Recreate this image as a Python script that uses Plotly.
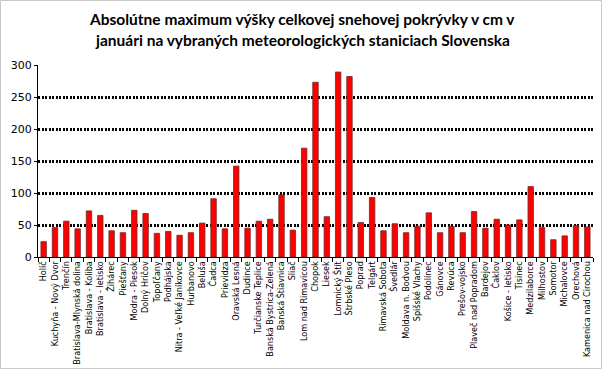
import plotly.graph_objects as go

stations = ["Holíč", "Kuchyňa - Nový Dvor", "Trenčín", "Bratislava-Mlynská dolina",
            "Bratislava - Koliba", "Bratislava - letisko", "Žihárec", "Piešťany",
            "Modra - Piesok", "Dolný Hričov", "Topoľčany", "Podhájska",
            "Nitra - Veľké Janíkovce", "Hurbanovo", "Beluša", "Čadca", "Prievidza",
            "Oravská Lesná", "Dudince", "Turčianske Teplice", "Banská Bystrica-Zelená",
            "Banská Štiavnica", "Sliač", "Lom nad Rimavicou", "Chopok", "Liesek",
            "Lomnický Štít", "Štrbské Pleso", "Poprad", "Telgárt", "Rimavská Sobota",
            "Švedlár", "Moldava n. Bodvou", "Spišské Vlachy", "Podolínec", "Gánovce",
            "Revúca", "Prešov-vojsko", "Plaveč nad Popradom", "Bardejov", "Čaklov",
            "Košice - letisko", "Tisinec", "Medzilaborce", "Milhostov", "Somotor",
            "Michalovce", "Orechová", "Kamenica nad Cirochou"]

snow_cm = [24, 46, 56, 44, 72, 65, 41, 38, 73, 68, 37, 40, 34, 38, 53, 91, 44,
           142, 45, 56, 59, 97, 42, 170, 273, 63, 289, 282, 54, 93, 41, 52, 38,
           48, 69, 38, 48, 38, 71, 45, 59, 50, 58, 110, 46, 27, 33, 49, 47]

y_ticks = [0, 50, 100, 150, 200, 250, 300]

title_lines = ["Absolútne maximum výšky celkovej snehovej pokrývky v cm v",
               "januári na vybraných meteorologických staniciach Slovenska"]

# plot area in pixels: x 38..593, y 65..257
PH = 192.0
PW = 555.0

fig = go.Figure()
fig.add_trace(go.Bar(
    x=stations, y=snow_cm,
    marker=dict(color="#ff0000", line=dict(color="#6e2a2a", width=0.8)),
))

annotations = []
for line, ypix in zip(title_lines, [18.5, 40.5]):
    annotations.append(dict(
        text=line, xref="paper", yref="paper",
        x=(302 - 38) / PW, y=(257 - ypix) / PH,
        xanchor="center", yanchor="middle", showarrow=False,
        font=dict(family="Lato", size=15.5, color="black", weight="bold"),
    ))

fig.update_layout(
    width=605, height=371,
    margin=dict(l=38, r=12, t=65, b=114),
    paper_bgcolor="white", plot_bgcolor="white",
    bargap=0.52,
    showlegend=False,
    annotations=annotations,
    xaxis=dict(
        type="category", tickangle=-90, tickson="boundaries",
        ticks="outside", ticklen=4, tickcolor="black",
        showline=True, linecolor="black", linewidth=1,
        tickfont=dict(family="DejaVu Sans", size=8.1, color="black"),
        showgrid=False, automargin=False,
    ),
    yaxis=dict(
        range=[0, 300], tickvals=y_ticks, ticktext=[str(v) for v in y_ticks],
        showline=True, linecolor="black", linewidth=1,
        ticks="outside", ticklen=3, tickcolor="black",
        tickfont=dict(family="DejaVu Sans", size=11, color="black"),
        showgrid=True, gridcolor="black", gridwidth=3, griddash="2px,1.5px",
        zeroline=False, automargin=False,
    ),
    shapes=[dict(type="rect", xref="paper", yref="paper",
                 x0=-37.5 / PW, x1=(601.5 - 38) / PW,
                 y0=(257 - 368.5) / PH, y1=(257 - 0.5) / PH,
                 line=dict(color="#c8c8c8", width=1))],
)

fig.write_html("out.html",
               config={"displayModeBar": False},
               post_script="document.body.style.margin='0';document.body.style.overflow='hidden';")
